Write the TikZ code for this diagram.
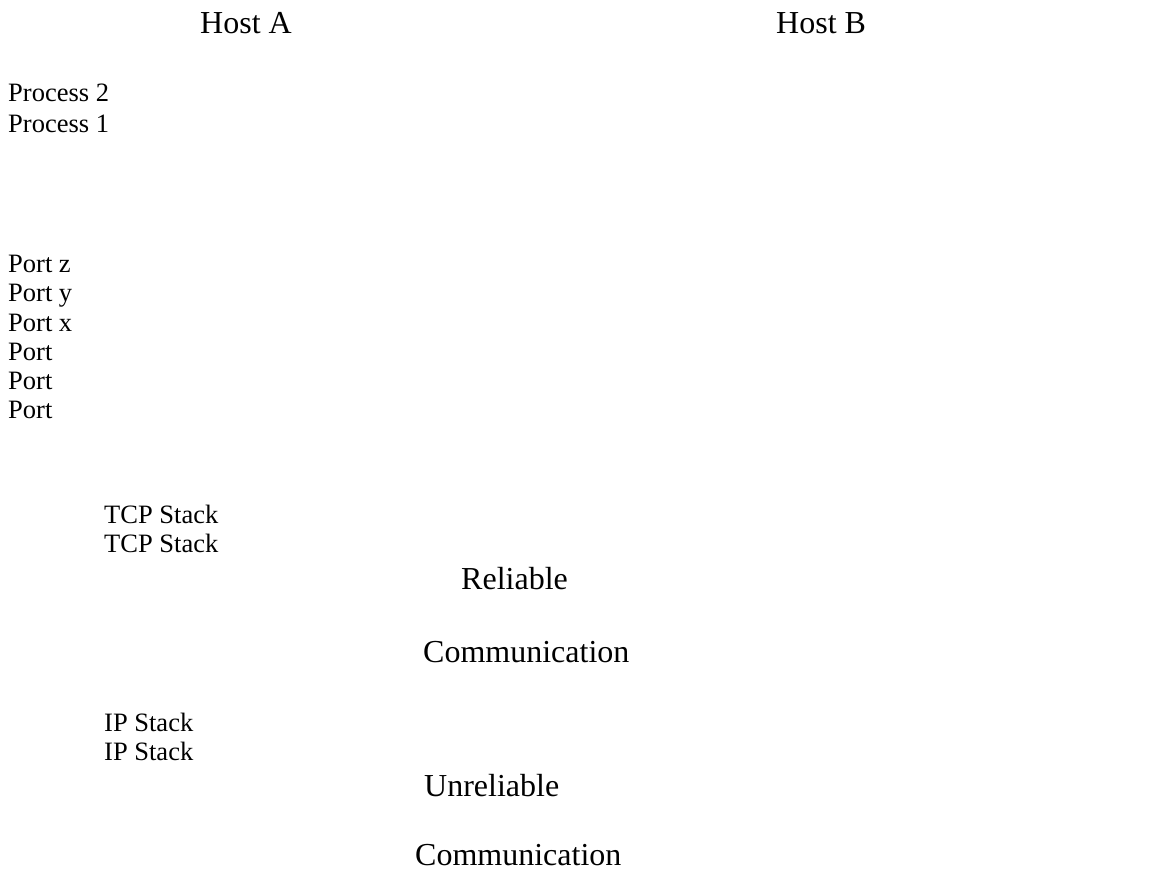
\documentclass[tikz,border=0pt]{standalone}
\usepackage{fontspec}
\setmainfont{Liberation Serif}
\usepackage{tikz}

\begin{document}
\begin{tikzpicture}[x=1pt,y=-1pt,
		big/.style={anchor=base west,inner sep=0pt,font=\fontsize{32}{38}\selectfont},
		small/.style={anchor=base west,inner sep=0pt,font=\fontsize{26.5}{30}\selectfont}]
					\useasboundingbox (0,0) rectangle (1160,875);
					
					% Hosts
					\node[big] (hostA) at (200,34) {Host A};
					\node[big] (hostB) at (776,34) {Host B};
					
					% Processes
					\node[small] (proc2) at (8,102) {Process 2};
					\node[small] (proc1) at (8,132) {Process 1};
					
					% Ports
					\foreach \lbl/\y/\nm in {Port z/272/portz, Port y/301/porty, Port x/331/portx,
						Port/360/portu, Port/389/portv, Port/418/portw}
						\node[small] (\nm) at (8,\y) {\lbl};
					
					% Stacks
					\node[small] (tcpA) at (104,523) {TCP Stack};
					\node[small] (tcpB) at (104,552) {TCP Stack};
					\node[small] (ipA) at (104,731) {IP Stack};
					\node[small] (ipB) at (104,760) {IP Stack};
					
					% Communication labels
					\node[big] (rel) at (461,589) {Reliable};
					\node[big] (relcom) at (423,662) {Communication};
					\node[big] (unrel) at (424,796) {Unreliable};
					\node[big] (unrelcom) at (415,865) {Communication};
				\end{tikzpicture}
\end{document}
